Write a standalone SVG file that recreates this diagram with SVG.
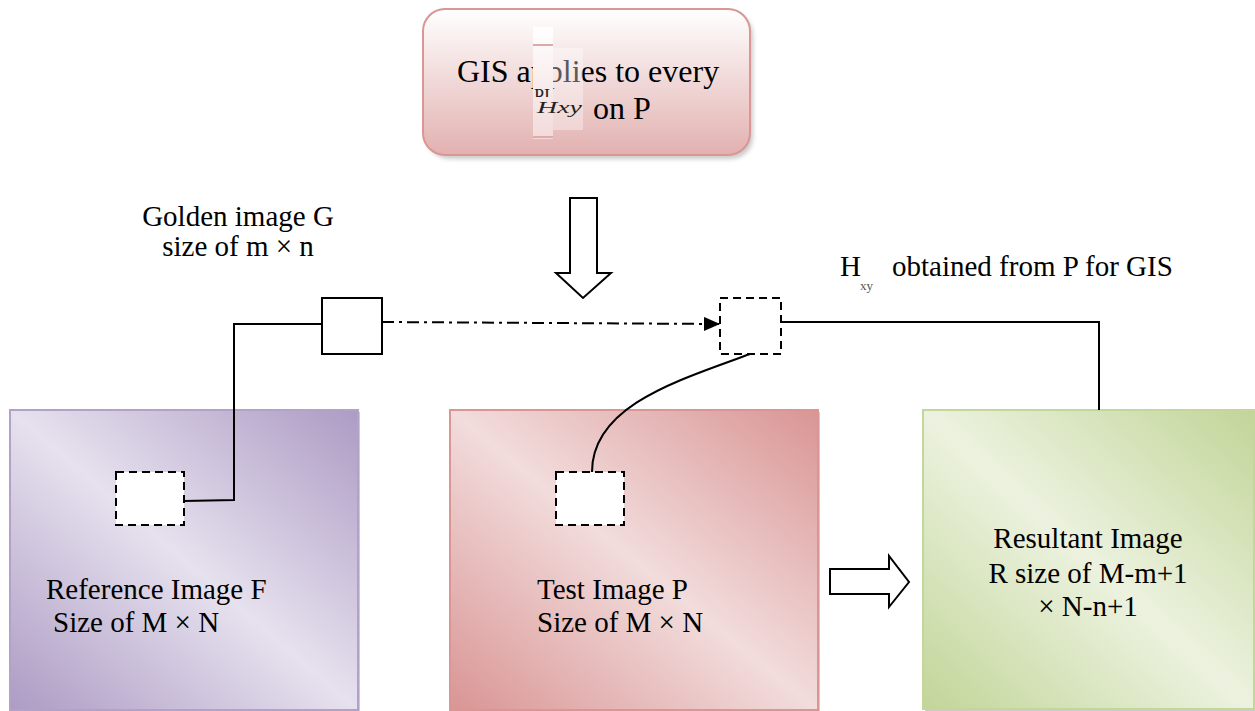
<svg xmlns="http://www.w3.org/2000/svg" width="1255" height="711" viewBox="0 0 1255 711">
  <defs>
    <linearGradient id="gPurple" x1="1" y1="0" x2="0" y2="1">
      <stop offset="0" stop-color="#ad9bc4"/>
      <stop offset="0.5" stop-color="#e6e1ee"/>
      <stop offset="1" stop-color="#ad9bc4"/>
    </linearGradient>
    <linearGradient id="gRed" x1="1" y1="0" x2="0" y2="1">
      <stop offset="0" stop-color="#d99594"/>
      <stop offset="0.5" stop-color="#f2dcdc"/>
      <stop offset="1" stop-color="#d99594"/>
    </linearGradient>
    <linearGradient id="gGreen" x1="1" y1="0" x2="0" y2="1">
      <stop offset="0" stop-color="#c2d598"/>
      <stop offset="0.5" stop-color="#ecf2df"/>
      <stop offset="1" stop-color="#c2d598"/>
    </linearGradient>
    <linearGradient id="gTop" x1="0" y1="0" x2="0" y2="1">
      <stop offset="0" stop-color="#ffffff"/>
      <stop offset="1" stop-color="#e2b1b0"/>
    </linearGradient>
    <linearGradient id="gStrip" x1="0" y1="0" x2="0" y2="1">
      <stop offset="0" stop-color="#ffffff"/>
      <stop offset="1" stop-color="#f2dada"/>
    </linearGradient>
    <filter id="soft" x="-10%" y="-10%" width="120%" height="130%">
      <feGaussianBlur stdDeviation="2"/>
    </filter>
    <clipPath id="stripClip">
      <rect x="533" y="87" width="18" height="10"/>
    </clipPath>
    <marker id="tri" markerWidth="16" markerHeight="14" refX="16" refY="7" orient="auto" markerUnits="userSpaceOnUse">
      <path d="M0,0 L16,7 L0,14 Z" fill="#000"/>
    </marker>
  </defs>
  <style>
    text { font-family: 'Times New Roman', 'Liberation Serif', 'DejaVu Serif', serif; }
    .lbl { font-size: 29px; fill: #000; }
    .big { font-size: 32px; fill: #000; }
    .win { fill: #fff; stroke: #000; stroke-width: 2; stroke-dasharray: 8 5; }
    .line { fill: none; stroke: #000; stroke-width: 2; }
    .blk { fill: #fff; stroke: #000; stroke-width: 2; stroke-linejoin: miter; }
    .shadow { fill: #8c8c8c; opacity: 0.45; }
  </style>

  <rect width="1255" height="711" fill="#fff"/>

  <!-- GIS step box -->
  <g id="gis">
    <rect x="427" y="13" width="326" height="146" rx="22" class="shadow" filter="url(#soft)"/>
    <rect x="423" y="9" width="327" height="146" rx="22" fill="url(#gTop)" stroke="#d99694" stroke-width="2"/>
    <text class="big" x="457" y="82" font-family="Liberation Serif, serif">GIS applies to every</text>
    <!-- embedded equation patch -->
    <rect x="533" y="27" width="20" height="112" fill="url(#gStrip)"/>
    <rect x="533" y="44" width="20" height="2" fill="#e0a9a8"/>
    <rect x="533" y="136" width="20" height="2" fill="#e0a9a8"/>
    <rect x="553" y="48" width="30" height="82" fill="#fff" opacity="0.35"/>
    <text x="534" y="102" clip-path="url(#stripClip)" font-family="Liberation Serif, serif" font-size="18" fill="#222">PI</text>
    <text x="537" y="113" textLength="45" lengthAdjust="spacingAndGlyphs" font-family="Liberation Serif, serif" font-style="italic" font-size="17" fill="#222">Hxy</text>
    <text class="big" x="593" y="119" font-family="Liberation Serif, serif">on P</text>
  </g>

  <!-- down block arrow -->
  <g id="arrow-down">
    <path class="blk" d="M570,198 L597,198 L597,273 L611,273 L583,298 L556,273 L570,273 Z"/>
  </g>

  <!-- golden image label -->
  <g id="golden-label">
    <text class="lbl" x="238" y="226" text-anchor="middle" font-family="Liberation Serif, serif">Golden image G</text>
    <text class="lbl" x="238" y="256" text-anchor="middle" font-family="Liberation Serif, serif">size of m × n</text>
  </g>

  <!-- golden image window -->
  <g id="golden">
    <rect x="322" y="298" width="60" height="56" fill="#fff" stroke="#000" stroke-width="2"/>
  </g>

  <!-- H_xy window -->
  <g id="hxy">
    <rect x="720" y="298" width="61" height="56" class="win"/>
  </g>

  <g id="hxy-label">
    <text class="lbl" x="840" y="276" font-family="Liberation Serif, serif">H</text>
    <text x="860" y="290" font-family="Liberation Serif, serif" font-size="13" fill="#555">xy</text>
    <text class="lbl" x="892" y="276" font-family="Liberation Serif, serif">obtained from P for GIS</text>
  </g>

  <!-- Reference image F -->
  <g id="ref-image">
    <rect x="12" y="412" width="348" height="300" fill="#9a9a9a" opacity="0.5"/>
    <rect x="10" y="410" width="348" height="300" fill="url(#gPurple)" stroke="#b3a2c7" stroke-width="2"/>
    <rect x="116" y="472" width="68" height="53" class="win"/>
    <text class="lbl" x="46" y="599" font-family="Liberation Serif, serif">Reference Image F</text>
    <text class="lbl" x="53" y="632" font-family="Liberation Serif, serif">Size of M × N</text>
  </g>

  <!-- Test image P -->
  <g id="test-image">
    <rect x="452" y="412" width="368" height="300" fill="#9a9a9a" opacity="0.5"/>
    <rect x="450" y="410" width="368" height="300" fill="url(#gRed)" stroke="#d99694" stroke-width="2"/>
    <rect x="556" y="472" width="68" height="53" class="win"/>
    <text class="lbl" x="537" y="599" font-family="Liberation Serif, serif">Test Image P</text>
    <text class="lbl" x="537" y="632" font-family="Liberation Serif, serif">Size of M × N</text>
  </g>

  <!-- right block arrow -->
  <g id="arrow-right">
    <path class="blk" d="M830,569 L889,569 L889,556 L909,582 L889,607 L889,594 L830,594 Z"/>
  </g>

  <!-- Resultant image R -->
  <g id="result-image">
    <rect x="925" y="412" width="331" height="299" fill="#9a9a9a" opacity="0.5"/>
    <rect x="923" y="410" width="331" height="299" fill="url(#gGreen)" stroke="#c3d69b" stroke-width="2"/>
    <text class="lbl" x="1088" y="548" text-anchor="middle" font-family="Liberation Serif, serif">Resultant Image</text>
    <text class="lbl" x="1088" y="583" text-anchor="middle" font-family="Liberation Serif, serif">R size of M-m+1</text>
    <text class="lbl" x="1088" y="616" text-anchor="middle" font-family="Liberation Serif, serif">× N-n+1</text>
  </g>

  <!-- connectors -->
  <g id="connectors">
    <polyline class="line" points="184,501 234,500 234,324 322,324"/>
    <line class="line" x1="382" y1="322" x2="720" y2="324" stroke-dasharray="12 5 3 5" marker-end="url(#tri)"/>
    <polyline class="line" points="781,322 1099,322 1099,410"/>
    <path class="line" d="M750,354 C680,380 592,405 592,472"/>
  </g>
</svg>
